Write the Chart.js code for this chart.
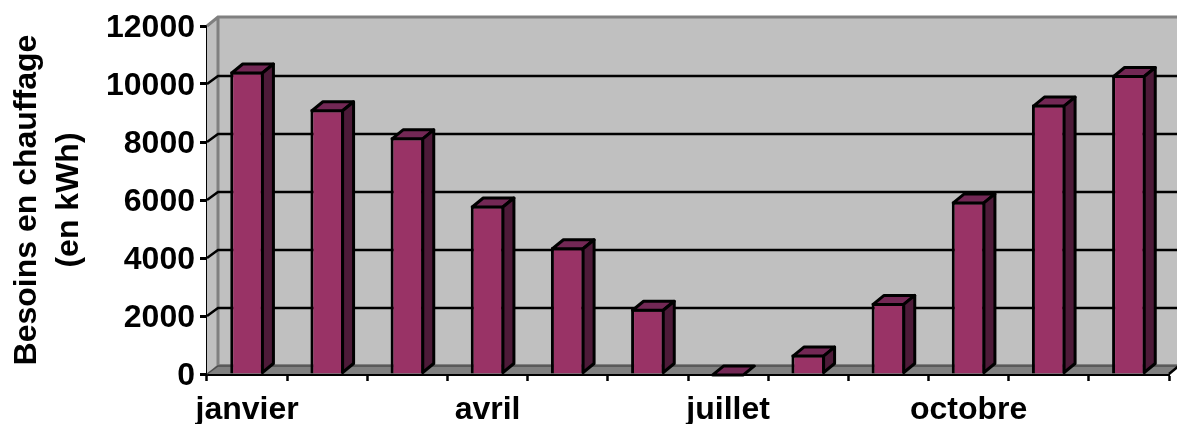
<!DOCTYPE html>
<html>
<head>
<meta charset="utf-8">
<style>
  html, body { margin: 0; padding: 0; background: #fff; }
  #wrap { position: relative; width: 1177px; height: 424px; }
</style>
<script src="https://cdn.jsdelivr.net/npm/chart.js@4"></script>
</head>
<body>
<div id="wrap"><canvas id="besoins"></canvas></div>
<script>
const mois = ['janvier', 'février', 'mars', 'avril', 'mai', 'juin', 'juillet', 'août', 'septembre', 'octobre', 'novembre', 'décembre'];
const besoins = [10430, 9130, 8160, 5810, 4370, 2250, 20, 670, 2450, 5950, 9290, 10310];
const titreAxe = ['Besoins en chauffage', '(en kWh)'];

const famille = '"Liberation Sans", Arial, sans-serif';
const dx = 11, dy = 9; // profondeur de la perspective

// Murs, sol et grille du fond
const murs = {
    id: 'murs',
    beforeDatasetsDraw(chart) {
        const { ctx, chartArea: a, scales: { y } } = chart;
        ctx.save();
        // mur gauche
        ctx.fillStyle = '#c0c0c0';
        ctx.beginPath();
        ctx.moveTo(a.left, a.top);
        ctx.lineTo(a.left + dx, a.top - dy);
        ctx.lineTo(a.left + dx, a.bottom - dy);
        ctx.lineTo(a.left, a.bottom);
        ctx.closePath();
        ctx.fill();
        // mur du fond
        ctx.fillRect(a.left + dx, a.top - dy, a.width + dx, a.height);
        // sol
        ctx.fillStyle = '#808080';
        ctx.beginPath();
        ctx.moveTo(a.left, a.bottom);
        ctx.lineTo(a.left + dx, a.bottom - dy - 1);
        ctx.lineTo(a.right + dx, a.bottom - dy - 1);
        ctx.lineTo(a.right, a.bottom);
        ctx.closePath();
        ctx.fill();
        // bords gris
        ctx.strokeStyle = '#808080';
        ctx.lineWidth = 3;
        ctx.beginPath();
        ctx.moveTo(a.left, a.top);
        ctx.lineTo(a.left + dx, a.top - dy);
        ctx.lineTo(a.right + dx, a.top - dy);
        ctx.moveTo(a.left + dx, a.top - dy);
        ctx.lineTo(a.left + dx, a.bottom - dy);
        ctx.stroke();
        // lignes de grille
        y.ticks.forEach((t) => {
            if (t.value === 12000) return;
            const py = y.getPixelForValue(t.value);
            ctx.strokeStyle = t.value === 0 ? '#4d4d4d' : '#000';
            ctx.lineWidth = t.value === 0 ? 1.5 : 2.5;
            ctx.beginPath();
            ctx.moveTo(a.left, py);
            ctx.lineTo(a.left + dx, py - dy + 1);
            ctx.lineTo(a.right + dx, py - dy + 1);
            ctx.stroke();
        });
        // bout droit de l'axe
        ctx.strokeStyle = '#000';
        ctx.lineWidth = 2.5;
        ctx.beginPath();
        ctx.moveTo(a.right, a.bottom);
        ctx.lineTo(a.right + dx, a.bottom - dy);
        ctx.stroke();
        ctx.restore();
    }
};

// Faces du dessus et de droite de chaque barre
const faces = {
    id: 'faces',
    afterDatasetsDraw(chart) {
        const { ctx } = chart;
        ctx.save();
        ctx.strokeStyle = '#000';
        ctx.lineWidth = 3;
        ctx.lineJoin = 'round';
        chart.getDatasetMeta(0).data.forEach((bar) => {
            const g = bar.getProps(['x', 'y', 'base', 'width'], true);
            const gauche = g.x - g.width / 2 + 1.5, droite = g.x + g.width / 2 - 1.5;
            const haut = g.y + 1.5, bas = g.base - 1;
            ctx.fillStyle = '#732855';
            ctx.beginPath();
            ctx.moveTo(gauche, haut);
            ctx.lineTo(gauche + dx, haut - dy);
            ctx.lineTo(droite + dx, haut - dy);
            ctx.lineTo(droite, haut);
            ctx.closePath();
            ctx.fill();
            ctx.stroke();
            if (bas - haut < 2) return;
            ctx.fillStyle = '#4d1a38';
            ctx.beginPath();
            ctx.moveTo(droite, haut);
            ctx.lineTo(droite + dx, haut - dy);
            ctx.lineTo(droite + dx, bas - dy);
            ctx.lineTo(droite, bas);
            ctx.closePath();
            ctx.fill();
            ctx.stroke();
        });
        ctx.restore();
    }
};

new Chart(document.getElementById('besoins').getContext('2d'), {
    type: 'bar',
    data: {
        labels: mois,
        datasets: [{
            data: besoins,
            backgroundColor: '#993366',
            borderColor: '#000',
            borderWidth: 3,
            barPercentage: 0.42,
            categoryPercentage: 1
        }]
    },
    options: {
        responsive: true,
        maintainAspectRatio: false,
        animation: false,
        layout: { padding: { top: 26, right: 8, left: 0, bottom: 0 } },
        plugins: { legend: { display: false }, tooltip: { enabled: false } },
        scales: {
            x: {
                afterFit: (s) => { s.height = 50; },
                border: { color: '#000', width: 3 },
                grid: { offset: true, drawOnChartArea: false, drawTicks: true, tickLength: 7, tickWidth: 2.5, tickColor: '#000' },
                ticks: {
                    autoSkip: false,
                    maxRotation: 0,
                    color: '#000',
                    padding: 10,
                    font: { family: famille, weight: 'bold', size: 32 },
                    callback(v, i) { return i % 3 === 0 ? mois[i] : ''; }
                }
            },
            y: {
                min: 0,
                max: 12000,
                afterFit: (s) => { s.width = 207; },
                border: { color: '#000', width: 3 },
                grid: { drawOnChartArea: false, tickLength: 7, tickWidth: 3, tickColor: '#000' },
                ticks: {
                    stepSize: 2000,
                    color: '#000',
                    padding: 5,
                    labelOffset: 2,
                    font: { family: famille, weight: 'bold', size: 32 },
                    callback: (v) => String(v)
                },
                title: {
                    display: true,
                    text: titreAxe,
                    color: '#000',
                    padding: { top: 6, bottom: 0 },
                    font: { family: famille, weight: 'bold', size: 32, lineHeight: 1.32 }
                }
            }
        }
    },
    plugins: [murs, faces]
});
</script>
</body>
</html>
